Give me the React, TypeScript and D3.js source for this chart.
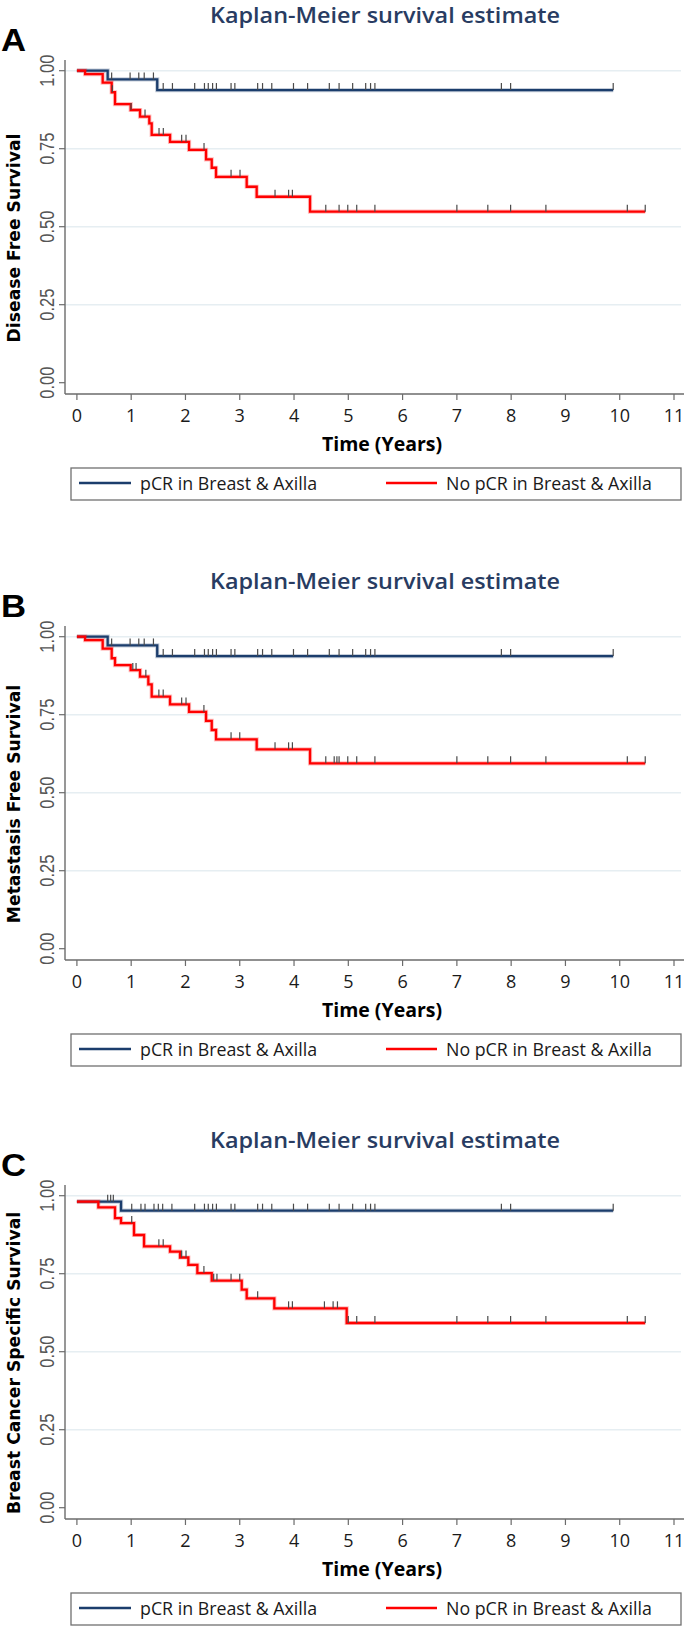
import * as d3 from 'd3';

// ---- shared axis data ----
const xTicks = [0, 1, 2, 3, 4, 5, 6, 7, 8, 9, 10, 11];
const yTicks = [0, 0.25, 0.5, 0.75, 1];
const yTickLabels = ['0.00', '0.25', '0.50', '0.75', '1.00'];
const gridTicks = [0.25, 0.5, 0.75, 1];
const groupNames = ['pCR in Breast & Axilla', 'No pCR in Breast & Axilla'];
const groupColors = ['#1b3d6c', '#ff0000'];
const panelLetters = ['A', 'B', 'C'];
const panelYTitles = ['Disease Free Survival', 'Metastasis Free Survival', 'Breast Cancer Specific Survival'];

// ---- A: disease free survival ----
const dfsPcrTimes = [0, 0.567, 1.48];
const dfsPcrSurv = [1, 0.972, 0.938];
const dfsPcrEnd = 9.88;
const dfsPcrCensored = [0.64, 0.98, 1.14, 1.24, 1.41, 1.59, 1.76, 2.17, 2.35, 2.42, 2.5, 2.57, 2.84, 2.91, 3.33, 3.42, 3.59, 3.99, 4.25, 4.65, 4.83, 5.08, 5.32, 5.41, 5.49, 7.82, 7.99, 9.88];
const dfsNoPcrTimes = [0, 0.151, 0.475, 0.641, 0.702, 0.991, 1.163, 1.334, 1.378, 1.716, 2.066, 2.379, 2.484, 2.563, 3.128, 3.312, 4.295];
const dfsNoPcrSurv = [1, 0.989, 0.9615, 0.931, 0.893, 0.874, 0.853, 0.831, 0.794, 0.772, 0.746, 0.716, 0.689, 0.66, 0.628, 0.596, 0.548];
const dfsNoPcrEnd = 10.47;
const dfsNoPcrCensored = [0.653, 0.997, 1.255, 1.513, 1.592, 1.93, 2.01, 2.342, 2.84, 3.005, 3.65, 3.9, 3.97, 4.585, 4.83, 4.99, 5.155, 5.49, 7.0, 7.57, 7.99, 8.64, 10.14, 10.47];

// ---- B: metastasis free survival ----
const mfsPcrTimes = [0, 0.567, 1.48];
const mfsPcrSurv = [1, 0.972, 0.938];
const mfsPcrEnd = 9.88;
const mfsPcrCensored = [0.64, 0.98, 1.14, 1.24, 1.41, 1.59, 1.76, 2.17, 2.35, 2.42, 2.5, 2.57, 2.84, 2.91, 3.33, 3.42, 3.59, 3.99, 4.25, 4.65, 4.83, 5.08, 5.32, 5.41, 5.49, 7.82, 7.99, 9.88];
const mfsNoPcrTimes = [0, 0.151, 0.475, 0.641, 0.702, 0.991, 1.163, 1.316, 1.378, 1.716, 2.066, 2.379, 2.484, 2.563, 3.312, 4.295];
const mfsNoPcrSurv = [1, 0.989, 0.9615, 0.931, 0.909, 0.893, 0.872, 0.847, 0.808, 0.783, 0.759, 0.73, 0.701, 0.671, 0.639, 0.594];
const mfsNoPcrEnd = 10.47;
const mfsNoPcrCensored = [1.03, 1.09, 1.27, 1.51, 1.59, 1.93, 2.01, 2.34, 2.84, 3.0, 3.65, 3.9, 3.97, 4.585, 4.74, 4.79, 4.83, 4.99, 5.155, 5.49, 7.0, 7.57, 7.99, 8.64, 10.14, 10.47];

// ---- C: breast cancer specific survival ----
const bcssPcrTimes = [0, 0.813];
const bcssPcrSurv = [0.981, 0.952];
const bcssPcrEnd = 9.88;
const bcssPcrCensored = [0.567, 0.622, 0.671, 1.01, 1.18, 1.255, 1.42, 1.5, 1.58, 1.75, 2.17, 2.35, 2.42, 2.5, 2.57, 2.84, 2.91, 3.33, 3.42, 3.59, 3.99, 4.25, 4.65, 4.83, 5.08, 5.32, 5.41, 5.49, 7.82, 7.99, 9.88];
const bcssNoPcrTimes = [0, 0.395, 0.702, 0.813, 1.052, 1.237, 1.716, 1.9, 2.053, 2.219, 2.484, 3.036, 3.128, 3.637, 4.97];
const bcssNoPcrSurv = [0.981, 0.9626, 0.9284, 0.9124, 0.874, 0.8376, 0.8205, 0.802, 0.778, 0.752, 0.7276, 0.699, 0.671, 0.639, 0.592];
const bcssNoPcrEnd = 10.47;
const bcssNoPcrCensored = [1.01, 1.51, 1.59, 1.93, 2.01, 2.34, 2.52, 2.58, 2.84, 3.0, 3.33, 3.9, 3.97, 4.56, 4.72, 4.8, 5.0, 5.155, 5.49, 7.0, 7.57, 7.99, 8.64, 10.14, 10.47];

const panels = [
  [
    { times: dfsPcrTimes, surv: dfsPcrSurv, end: dfsPcrEnd, censored: dfsPcrCensored },
    { times: dfsNoPcrTimes, surv: dfsNoPcrSurv, end: dfsNoPcrEnd, censored: dfsNoPcrCensored },
  ],
  [
    { times: mfsPcrTimes, surv: mfsPcrSurv, end: mfsPcrEnd, censored: mfsPcrCensored },
    { times: mfsNoPcrTimes, surv: mfsNoPcrSurv, end: mfsNoPcrEnd, censored: mfsNoPcrCensored },
  ],
  [
    { times: bcssPcrTimes, surv: bcssPcrSurv, end: bcssPcrEnd, censored: bcssPcrCensored },
    { times: bcssNoPcrTimes, surv: bcssNoPcrSurv, end: bcssNoPcrEnd, censored: bcssNoPcrCensored },
  ],
];

const width = 685;
const height = 1629;
const panelOffsets = [0, 566, 1125];
const axisLeft = 65;
const axisRight = 684;
const axisBottom = 394;
const axisTop = 60;

const x = d3.scaleLinear().domain([0, 11]).range([76.9, 674]);
const y = d3.scaleLinear().domain([0, 1]).range([382.7, 70.7]);

const stepLine = d3.line<[number, number]>()
  .x(d => x(d[0]))
  .y(d => y(d[1]))
  .curve(d3.curveStepAfter);

const survAt = (times: number[], surv: number[], t: number) => {
  let s = surv[0];
  for (let i = 0; i < times.length; i++) if (times[i] <= t) s = surv[i];
  return s;
};

const Panel = ({ index }: { index: number }) => {
  const oy = panelOffsets[index];
  const series = panels[index];
  return (
    <g transform={`translate(0,${oy})`}>
      <text x={385} y={23} textAnchor="middle" fontFamily="'Open Sans', sans-serif" fontSize={21} fontWeight={600}
        fill="#283c62" textLength={350} lengthAdjust="spacingAndGlyphs">Kaplan-Meier survival estimate</text>
      <text transform="translate(1,51) scale(1.12,1)" fontFamily="'Liberation Sans', Arial, sans-serif" fontWeight="bold" fontSize={31}
        fill="#000">{panelLetters[index]}</text>

      {/* gridlines */}
      {gridTicks.map(v => (
        <line key={v} x1={axisLeft} x2={axisRight - 3} y1={y(v)} y2={y(v)} stroke="#e6eef2" strokeWidth={1.5} />
      ))}

      {/* y axis */}
      <line x1={axisLeft} x2={axisLeft} y1={axisTop} y2={axisBottom} stroke="#6b6b6b" strokeWidth={1.4} />
      {yTicks.map((v, i) => (
        <g key={v}>
          <line x1={axisLeft - 6} x2={axisLeft} y1={y(v)} y2={y(v)} stroke="#6b6b6b" strokeWidth={1.2} />
          <text transform={`translate(54,${y(v)}) scale(1.25,1) rotate(-90)`} textAnchor="middle"
            fontFamily="'Liberation Sans', Arial, sans-serif" fontSize={16.5} fill="#555">{yTickLabels[i]}</text>
        </g>
      ))}
      <text transform={`translate(20,238) rotate(-90)`} textAnchor="middle"
        fontFamily="'DejaVu Sans', sans-serif" fontWeight="bold" fontSize={17.2} fill="#000">{panelYTitles[index]}</text>

      {/* x axis */}
      <line x1={axisLeft} x2={axisRight} y1={axisBottom} y2={axisBottom} stroke="#6b6b6b" strokeWidth={1.4} />
      {xTicks.map(v => (
        <g key={v}>
          <line x1={x(v)} x2={x(v)} y1={axisBottom} y2={axisBottom + 6} stroke="#6b6b6b" strokeWidth={1.2} />
          <text x={x(v)} y={422} textAnchor="middle" fontFamily="'Open Sans', sans-serif" fontSize={18}
            fill="#1a1a1a">{v}</text>
        </g>
      ))}
      <text x={382} y={451} textAnchor="middle" fontFamily="'Open Sans', sans-serif" fontWeight="bold"
        fontSize={19.5} fill="#000">Time (Years)</text>

      {/* survival curves */}
      {series.map((s, i) => {
        const pts: [number, number][] = s.times.map((t, k) => [t, s.surv[k]] as [number, number]);
        pts.push([s.end, s.surv[s.surv.length - 1]]);
        const d = stepLine(pts) || '';
        return (
          <g key={i}>
            <path d={d} fill="none" stroke={groupColors[i]} strokeOpacity={0.25} strokeWidth={4.2} />
            <path d={d} fill="none" stroke={groupColors[i]} strokeWidth={2.3} />
          </g>
        );
      })}
      {series.map((s, i) => (
        <g key={'c' + i}>
          {s.censored.map((t, k) => {
            const yy = y(survAt(s.times, s.surv, t));
            return <line key={k} x1={x(t)} x2={x(t)} y1={yy - 7} y2={yy} stroke="#4a4a4a" strokeWidth={1.2} />;
          })}
        </g>
      ))}

      {/* legend */}
      <rect x={71} y={468} width={610} height={32} fill="#fff" stroke="#707070" strokeWidth={1.3} />
      <line x1={79} x2={131} y1={483} y2={483} stroke={groupColors[0]} strokeWidth={2.4} />
      <text x={140} y={490} fontFamily="'Open Sans', sans-serif" fontSize={17.8} fill="#1a1a1a">{groupNames[0]}</text>
      <line x1={386} x2={437} y1={483} y2={483} stroke={groupColors[1]} strokeWidth={2.4} />
      <text x={446} y={490} fontFamily="'Open Sans', sans-serif" fontSize={17.8} fill="#1a1a1a">{groupNames[1]}</text>
    </g>
  );
};

const App = () => (
  <div style={{ position: 'absolute', left: 0, top: 0 }}>
    <svg width={width} height={height} viewBox={`0 0 ${width} ${height}`} style={{ display: 'block', background: '#fff' }}>
      {panelLetters.map((_, i) => <Panel key={i} index={i} />)}
    </svg>
  </div>
);

export default App;
